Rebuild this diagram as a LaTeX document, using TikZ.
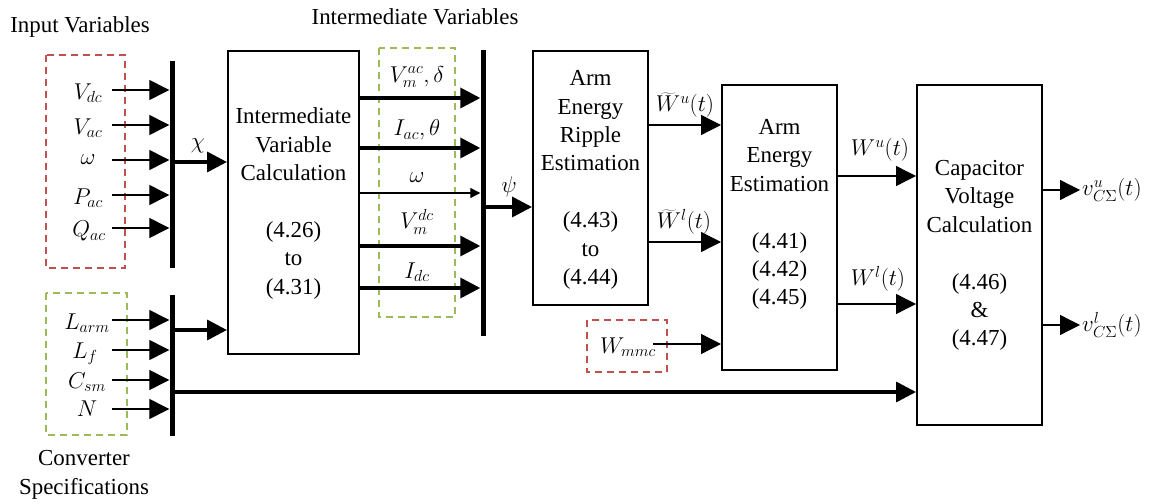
\RequirePackage{fix-cm}
\documentclass[tikz,border=0pt]{standalone}
\usepackage{fontspec}
\setmainfont{LiberationSerif}[Extension=.ttf, UprightFont=*-Regular, BoldFont=*-Bold, ItalicFont=*-Italic]
\usetikzlibrary{arrows.meta}
\definecolor{dred}{HTML}{C0504D}
\definecolor{dgreen}{HTML}{9BBB59}
\begin{document}
\begin{tikzpicture}[x=1bp,y=-1bp,
  every node/.style={font=\fontsize{23}{28.5}\selectfont, inner sep=0pt},
  block/.style={draw, line width=2bp},
  bus/.style={fill=black, minimum width=5bp, inner sep=0pt},
  lowarr/.style={line width=1.3bp, -{Triangle[length=20bp,width=20bp]}},
  higharr/.style={line width=3.5bp, -{Triangle[length=20bp,width=20bp]}},
  smallarr/.style={line width=1.2bp, -{Triangle[length=10bp,width=10bp]}},
  redgroup/.style={draw=dred, line width=2bp, dash pattern=on 7bp off 5bp},
  greengroup/.style={draw=dgreen, line width=2bp, dash pattern=on 7bp off 5bp},
]
\useasboundingbox (0,0) rectangle (1160,504);

% group boxes
\draw[redgroup] (46,55) rectangle (125,268);
\draw[greengroup] (46,293) rectangle (127,435);
\draw[greengroup] (379,48) rectangle (455,317);
\draw[redgroup] (587,320) rectangle (667,372);

% titles
\node (tin) at (80,27) {Input Variables};
\node (tint) at (415,17) {Intermediate Variables};
\node[align=center] (tconv) at (84,475) {Converter\\Specifications};

% buses
\node[bus, minimum height=207bp] (bus1) at (172,164.5) {};
\node[bus, minimum height=141bp] (bus2) at (172,365.5) {};
\node[bus, minimum height=286bp] (bus3) at (483,193) {};

% blocks
\node[block, minimum width=131bp, minimum height=303bp] (B1) at (293.5,202.5) {};
\node[block, minimum width=115bp, minimum height=254bp] (B2) at (590.5,178) {};
\node[block, minimum width=115bp, minimum height=285bp] (B3) at (779.5,227.5) {};
\node[block, minimum width=125bp, minimum height=340bp] (B4) at (979.5,255) {};

\node[align=center] (T1) at (293.5,203.5) {Intermediate\\Variable\\Calculation\\[28.5bp](4.26)\\to\\(4.31)};
\node[align=center] (T2) at (590.5,180) {Arm\\Energy\\Ripple\\Estimation\\[28.5bp](4.43)\\to\\(4.44)};
\node[align=center] (T3) at (779.5,214.5) {Arm\\Energy\\Estimation\\[28.5bp](4.41)\\(4.42)\\(4.45)};
\node[align=center] (T4) at (979.5,255.5) {Capacitor\\Voltage\\Calculation\\[28.5bp](4.46)\\\&\\(4.47)};

% input variables
\node (vdc) at (88,93) {$V_{dc}$};
\node (vac) at (88,128) {$V_{ac}$};
\node (om) at (88,160) {$\omega$};
\node (pac) at (88,198) {$P_{ac}$};
\node (qac) at (89,231) {$Q_{ac}$};
\coordinate (i1) at (112,90);
\coordinate (i2) at (112,125);
\coordinate (i3) at (112,160);
\coordinate (i4) at (112,195);
\coordinate (i5) at (112,228);
\foreach \c in {i1,i2,i3,i4,i5} \draw[lowarr] (\c) -- (\c -| bus1.west);

% converter specs
\node (larm) at (87,323) {$L_{arm}$};
\node (lf) at (85,354) {$L_f$};
\node (csm) at (87,382) {$C_{sm}$};
\node (nn) at (87,409) {$N$};
\coordinate (s1) at (112,320);
\coordinate (s2) at (112,350);
\coordinate (s3) at (112,380);
\coordinate (s4) at (112,409);
\foreach \c in {s1,s2,s3,s4} \draw[lowarr] (\c) -- (\c -| bus2.west);

% chi
\coordinate (chi) at (172,162);
\draw[higharr] (chi) -- (chi -| B1.west);
\node (chil) at (198,146) {$\chi$};

% bus2 outputs
\coordinate (cs1) at (172,330);
\draw[higharr] (cs1) -- (cs1 -| B1.west);
\coordinate (cs2) at (172,392);
\draw[higharr] (cs2) -- (cs2 -| B4.west);

% intermediate outputs
\coordinate (o1) at (359,98);
\coordinate (o2) at (359,148);
\coordinate (o3) at (359,193);
\coordinate (o4) at (359,246);
\coordinate (o5) at (359,288);
\draw[higharr] (o1 -| B1.east) -- (o1 -| bus3.west);
\draw[higharr] (o2 -| B1.east) -- (o2 -| bus3.west);
\draw[smallarr] (o3 -| B1.east) -- (o3 -| bus3.west);
\draw[higharr] (o4 -| B1.east) -- (o4 -| bus3.west);
\draw[higharr] (o5 -| B1.east) -- (o5 -| bus3.west);
\node (l1) at (417,77) {$V_m^{ac},\delta$};
\node (l2) at (417,130) {$I_{ac},\theta$};
\node (l3) at (417,178) {$\omega$};
\node (l4) at (417,222) {$V_m^{dc}$};
\node (l5) at (417,272) {$I_{dc}$};

% psi
\coordinate (psi) at (483,207);
\draw[higharr] (psi) -- (psi -| B2.west);
\node (psil) at (509,187) {$\psi$};

% B2 -> B3
\coordinate (wu) at (648,125);
\coordinate (wl) at (648,242);
\draw[lowarr] (wu -| B2.east) -- (wu -| B3.west);
\draw[lowarr] (wl -| B2.east) -- (wl -| B3.west);
\node (wul) at (685,105) {$\widetilde{W}^u(t)$};
\node (wll) at (684,222) {$\widetilde{W}^l(t)$};

% Wmmc
\node (wmmc) at (628,347) {$W_{mmc}$};
\coordinate (wm) at (653,344);
\draw[lowarr] (wm) -- (wm -| B3.west);

% B3 -> B4
\coordinate (eu) at (837,176);
\coordinate (el) at (837,304);
\draw[lowarr] (eu -| B3.east) -- (eu -| B4.west);
\draw[lowarr] (el -| B3.east) -- (el -| B4.west);
\node (eul) at (880,150) {$W^u(t)$};
\node (ell) at (878,279) {$W^l(t)$};

% outputs
\coordinate (vu) at (1080,190);
\coordinate (vl) at (1080,325);
\draw[lowarr] (vu -| B4.east) -- (vu);
\draw[lowarr] (vl -| B4.east) -- (vl);
\node[anchor=west] (vul) at (1082,190) {$v_{C\Sigma}^u(t)$};
\node[anchor=west] (vll) at (1082,325) {$v_{C\Sigma}^l(t)$};
\end{tikzpicture}
\end{document}
